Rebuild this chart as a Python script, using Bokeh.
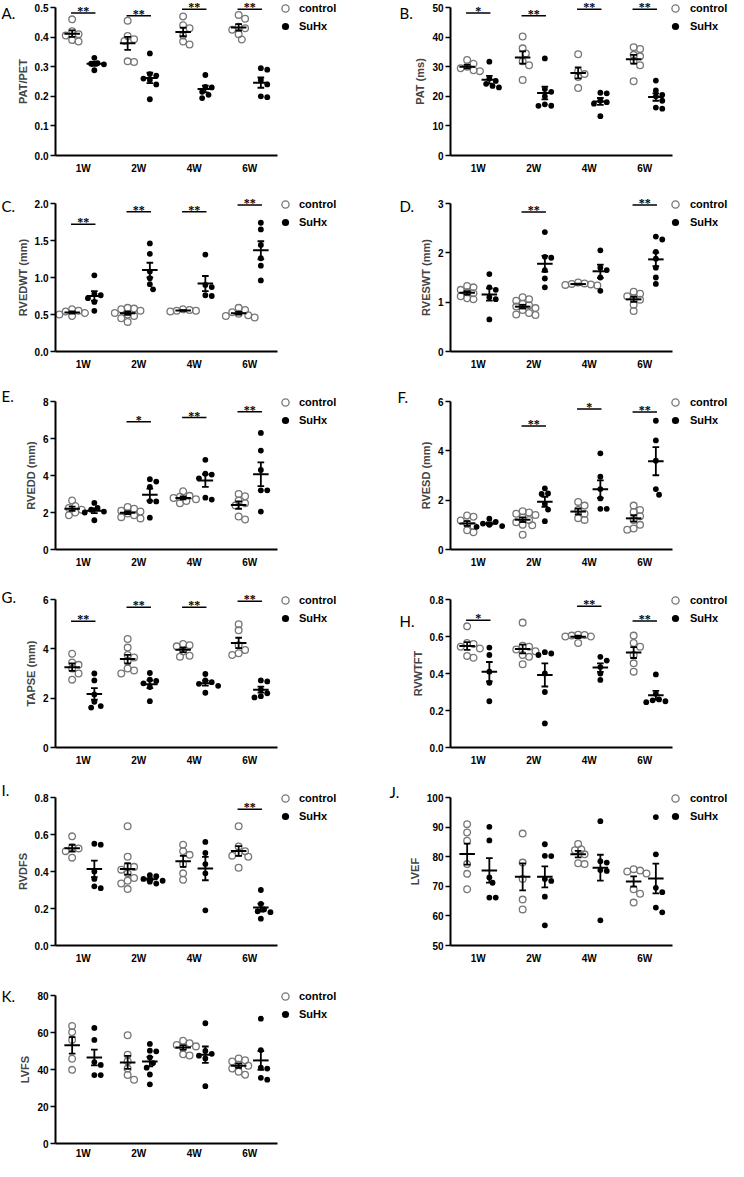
import numpy as np
from bokeh.plotting import figure
from bokeh.models import (ColumnDataSource, Range1d, FixedTicker, Label, LabelSet,
                          Legend, LegendItem, PrintfTickFormatter, CustomJSTickFormatter)
from bokeh.layouts import column, row
from bokeh.embed import file_html
from bokeh.resources import INLINE

weeks = ["1W", "2W", "4W", "6W"]
group_names = ["control", "SuHx"]

# ---------------- data ----------------
A_control = [[0.46, 0.42, 0.41, 0.405, 0.39, 0.385], [0.455, 0.404, 0.393, 0.387, 0.318, 0.316],
             [0.47, 0.44, 0.43, 0.405, 0.385, 0.375], [0.475, 0.462, 0.435, 0.43, 0.425, 0.41, 0.392]]
A_suhx = [[0.33, 0.312, 0.31, 0.308, 0.288], [0.345, 0.275, 0.27, 0.26, 0.255, 0.24, 0.19],
          [0.272, 0.232, 0.23, 0.215, 0.205, 0.194], [0.295, 0.29, 0.255, 0.24, 0.2, 0.197]]
A_sig = ["**", "**", "**", "**"]
A_sig_y = [0.481, 0.472, 0.494, 0.494]

B_control = [[32.3, 31, 30, 29.5, 28.8, 28.5], [40.2, 36.2, 34.5, 31.8, 30.5, 25.5],
             [34.2, 28.5, 27.5, 26.5, 22.8], [36.6, 36, 34, 33.5, 32, 30.5, 25.1]]
B_suhx = [[31.7, 26.0, 25.2, 24.2, 23.5, 23.0], [32.8, 22.5, 21.5, 20, 17.3, 16.8, 16.8],
          [21.2, 21, 18.5, 18, 17.5, 13.3], [25.3, 22, 20.5, 20, 18.5, 16.2, 15.8]]
B_sig = ["*", "**", "**", "**"]
B_sig_y = [48.1, 47.2, 49.4, 49.4]

C_control = [[0.57, 0.55, 0.54, 0.52, 0.5, 0.48], [0.59, 0.58, 0.57, 0.55, 0.52, 0.5, 0.48, 0.45, 0.4],
             [0.57, 0.56, 0.55, 0.55, 0.54], [0.59, 0.56, 0.53, 0.51, 0.49, 0.48, 0.46]]
C_suhx = [[1.03, 0.78, 0.76, 0.72, 0.67, 0.55], [1.46, 1.32, 1.08, 0.99, 0.91, 0.84],
          [1.31, 0.9, 0.87, 0.76, 0.75], [1.74, 1.65, 1.44, 1.26, 1.16, 0.96]]
C_sig = ["**", "**", "**", "**"]
C_sig_y = [1.72, 1.89, 1.89, 1.98]

D_control = [[1.33, 1.30, 1.25, 1.2, 1.18, 1.12, 1.08, 1.06],
             [1.1, 1.06, 1.03, 0.97, 0.94, 0.91, 0.88, 0.84, 0.78, 0.75, 0.74],
             [1.4, 1.38, 1.37, 1.36, 1.35, 1.34], [1.21, 1.17, 1.12, 1.08, 1.05, 0.95, 0.82]]
D_suhx = [[1.57, 1.3, 1.25, 1.1, 1.06, 0.65], [2.42, 1.92, 1.9, 1.65, 1.48, 1.3],
          [2.05, 1.7, 1.65, 1.5, 1.23], [2.33, 2.27, 2.02, 1.88, 1.7, 1.5, 1.37]]
D_sig = ["", "**", "", "**"]
D_sig_y = [0, 2.83, 0, 2.97]

E_control = [[2.65, 2.35, 2.25, 2.15, 2.0, 1.85], [2.3, 2.2, 2.1, 2.05, 1.95, 1.85, 1.75, 1.68],
             [3.15, 2.9, 2.85, 2.78, 2.72, 2.62, 2.5], [3.0, 2.88, 2.65, 2.5, 2.38, 1.78, 1.62]]
E_suhx = [[2.52, 2.25, 2.15, 2.05, 2.0, 1.58], [3.8, 3.67, 3.38, 2.62, 2.6, 1.72],
          [4.85, 4.1, 4.05, 3.85, 2.8, 2.7], [6.3, 5.35, 4.3, 3.2, 3.2, 2.05]]
E_sig = ["", "*", "**", "**"]
E_sig_y = [0, 6.9, 7.13, 7.45]

F_control = [[1.38, 1.33, 1.18, 1.05, 0.95, 0.78, 0.7], [1.55, 1.5, 1.45, 1.4, 1.3, 1.2, 1.1, 1.0, 0.98, 0.6],
             [1.93, 1.78, 1.6, 1.45, 1.27, 1.2], [1.78, 1.6, 1.52, 1.35, 1.2, 1.0, 0.85, 0.8]]
F_suhx = [[1.25, 1.12, 1.05, 1.0, 0.95, 0.92], [2.48, 2.27, 2.25, 1.85, 1.62, 1.15],
          [3.9, 2.95, 2.45, 2.07, 1.65, 1.65], [5.22, 4.42, 3.6, 2.45, 2.22]]
F_sig = ["", "**", "*", "**"]
F_sig_y = [0, 5.01, 5.7, 5.57]

G_control = [[3.8, 3.45, 3.35, 3.2, 3.0, 2.75], [4.4, 4.05, 3.75, 3.65, 3.5, 3.2, 3.12, 3.0],
             [4.2, 4.15, 4.1, 3.9, 3.72, 3.68], [5.0, 4.75, 4.15, 3.95, 3.82, 3.75]]
G_suhx = [[3.0, 2.72, 2.15, 1.85, 1.68, 1.62], [3.02, 2.75, 2.7, 2.6, 2.45, 1.88],
          [2.98, 2.72, 2.65, 2.58, 2.5, 2.22], [2.72, 2.68, 2.35, 2.2, 2.08, 2.03]]
G_sig = ["**", "**", "**", "**"]
G_sig_y = [5.12, 5.69, 5.69, 5.93]

H_control = [[0.655, 0.565, 0.56, 0.545, 0.535, 0.495, 0.485], [0.675, 0.55, 0.545, 0.53, 0.52, 0.5, 0.49, 0.45],
             [0.61, 0.608, 0.605, 0.6, 0.6, 0.565], [0.605, 0.565, 0.545, 0.5, 0.455, 0.41]]
H_suhx = [[0.54, 0.5, 0.41, 0.35, 0.25], [0.515, 0.508, 0.5, 0.4, 0.3, 0.13],
          [0.49, 0.47, 0.435, 0.4, 0.365], [0.395, 0.29, 0.26, 0.255, 0.25, 0.245]]
H_sig = ["*", "", "**", "**"]
H_sig_y = [0.688, 0, 0.763, 0.684]

I_control = [[0.59, 0.53, 0.525, 0.51, 0.475],
             [0.645, 0.48, 0.43, 0.425, 0.41, 0.39, 0.365, 0.35, 0.335, 0.305],
             [0.545, 0.51, 0.49, 0.44, 0.39, 0.355], [0.645, 0.535, 0.51, 0.5, 0.485, 0.48, 0.42]]
I_suhx = [[0.55, 0.545, 0.4, 0.36, 0.31, 0.32], [0.38, 0.375, 0.36, 0.35, 0.345, 0.335],
          [0.56, 0.5, 0.44, 0.39, 0.19], [0.3, 0.225, 0.195, 0.185, 0.18, 0.145]]
I_sig = ["", "", "", "**"]
I_sig_y = [0, 0, 0, 0.736]

J_control = [[91, 88.2, 85.4, 77.5, 74.2, 69], [87.8, 78, 72.5, 65.5, 62.2],
             [84.3, 82.5, 82.2, 80.8, 77.8, 77.5], [75.8, 75.3, 75, 74.3, 69, 67.5, 64.5]]
J_suhx = [[90.1, 85.5, 73, 71.2, 66.2, 66.2], [84.2, 80.3, 80.2, 72.5, 71.8, 66.5, 56.8],
          [92, 78.5, 78, 75.5, 75.2, 58.5], [93.4, 80.8, 69.5, 68, 62.8, 61.2]]
J_sig = ["", "", "", ""]
J_sig_y = [0, 0, 0, 0]

K_control = [[63.5, 60.2, 56, 45.8, 39.8], [58.5, 48, 44.5, 40.5, 37, 34.5],
             [55.5, 54.2, 53.3, 52.5, 51.8, 48.2, 47.6], [46, 45, 44.3, 42.5, 42, 40.5, 38.8, 37.2]]
K_suhx = [[62.5, 56, 44, 42.5, 37, 37], [53.8, 50.2, 49.8, 46.5, 43.5, 41, 37.3, 32],
          [65, 50, 48.5, 47.5, 46, 31], [67.5, 50.5, 41, 40.5, 35.5, 34.5]]
K_sig = ["", "", "", ""]
K_sig_y = [0, 0, 0, 0]

# panel descriptions: letter, y label, y range, tick step, tick format
panels = [
    ("A.", "PAT/PET", 0, 0.5, 0.1, "%.1f", A_control, A_suhx, A_sig, A_sig_y),
    ("B.", "PAT (ms)", 0, 50, 10, "%d", B_control, B_suhx, B_sig, B_sig_y),
    ("C.", "RVEDWT (mm)", 0, 2.0, 0.5, "%.1f", C_control, C_suhx, C_sig, C_sig_y),
    ("D.", "RVESWT (mm)", 0, 3, 1, "%d", D_control, D_suhx, D_sig, D_sig_y),
    ("E.", "RVEDD (mm)", 0, 8, 2, "%d", E_control, E_suhx, E_sig, E_sig_y),
    ("F.", "RVESD (mm)", 0, 6, 2, "%d", F_control, F_suhx, F_sig, F_sig_y),
    ("G.", "TAPSE (mm)", 0, 6, 2, "%d", G_control, G_suhx, G_sig, G_sig_y),
    ("H.", "RVWTFT", 0, 0.8, 0.2, "%.1f", H_control, H_suhx, H_sig, H_sig_y),
    ("I.", "RVDFS", 0, 0.8, 0.2, "%.1f", I_control, I_suhx, I_sig, I_sig_y),
    ("J.", "LVEF", 50, 100, 10, "%d", J_control, J_suhx, J_sig, J_sig_y),
    ("K.", "LVFS", 0, 80, 20, "%d", K_control, K_suhx, K_sig, K_sig_y),
]

# panel-letter placement (px, relative to the bottom-left of the data area)
letter_pos = {"A.": (-54, 143), "B.": (-51, 143), "C.": (-54, 146), "D.": (-51, 146),
              "E.": (-54, 154), "F.": (-53, 153), "G.": (-54, 151), "H.": (-51, 127),
              "I.": (-54, 156), "J.": (-61, 154), "K.": (-54, 148)}

FONT = "Liberation Sans"
CTRL = "#777777"
DATA_W, DATA_H = 222, 148
X_PPU = DATA_W / 4.0
GROUP_OFF = 0.2


def swarm(vals, lo, hi):
    """deterministic beeswarm offsets (in x data units)"""
    vals = np.asarray(vals, dtype=float)
    ppu = DATA_H / (hi - lo)
    d = 6.4
    cands = [0.0]
    for k in range(1, 14):
        cands += [k * d / 2, -k * d / 2]
    placed = []
    offs = np.zeros(len(vals))
    for i in np.argsort(-vals):
        py = (vals[i] - lo) * ppu
        for c in cands:
            if all((c - px) ** 2 + (py - qy) ** 2 >= (0.92 * d) ** 2 for px, qy in placed):
                break
        placed.append((c, py))
        offs[i] = c / X_PPU
    return offs


def make_panel(spec, col, rowi, nrows):
    letter, ylabel, lo, hi, step, fmt, ctrl, suhx, sig, sig_y = spec
    last = rowi == nrows - 1
    ml = 55 if col == 0 else 82
    mr = 91 if col == 0 else 56
    w = ml + DATA_W + mr
    top = 7 if rowi == 0 else 20
    mb = 17 if last else (28 if rowi == 0 else 30)
    h = top + DATA_H + mb
    xpp = 4.0 / DATA_W
    ypp = (hi - lo) / DATA_H
    p = figure(width=w, height=h, output_backend="svg", toolbar_location=None,
               x_range=Range1d(-ml * xpp, 4 + mr * xpp),
               y_range=Range1d(lo - mb * ypp, hi + top * ypp),
               min_border=0)
    p.outline_line_color = None
    p.xgrid.visible = False
    p.ygrid.visible = False
    p.background_fill_color = "white"
    p.border_fill_color = "white"

    # axes (pinned to the data area)
    xa = p.xaxis[0]
    ya = p.yaxis[0]
    xa.fixed_location = lo
    xa.bounds = (0, 4)
    ya.fixed_location = 0
    ya.bounds = (lo, hi)
    xa.ticker = FixedTicker(ticks=[i + 0.5 for i in range(len(weeks))])
    xa.formatter = CustomJSTickFormatter(args=dict(labels=weeks),
                                         code="return labels[Math.floor(tick)] || '';")
    xa.major_tick_line_color = None
    xa.major_tick_out = 0
    xa.major_tick_in = 0
    xa.major_label_standoff = 7 if not last else 4
    nt = int(round((hi - lo) / step))
    ya.ticker = FixedTicker(ticks=[round(lo + k * step, 6) for k in range(nt + 1)])
    ya.formatter = PrintfTickFormatter(format=fmt)
    ya.major_tick_out = 5
    ya.major_tick_in = 0
    ya.major_tick_line_width = 1.5
    ya.major_label_standoff = 2
    ya.axis_label = ylabel
    ya.axis_label_text_font = FONT
    ya.axis_label_text_font_style = "bold"
    ya.axis_label_text_font_size = "11px"
    ya.axis_label_standoff = 3
    for ax in (xa, ya):
        ax.axis_line_width = 2
        ax.axis_line_color = "black"
        ax.minor_tick_line_color = None
        ax.major_label_text_font = FONT
        ax.major_label_text_font_style = "bold"
        ax.major_label_text_font_size = "10px"
        ax.major_label_text_color = "black"

    renderers = []
    for gi, (data, sign) in enumerate(((ctrl, -1), (suhx, 1))):
        xs, ys = [], []
        mx0, mx1, mys, ex, elo, ehi = [], [], [], [], [], []
        for wi, vals in enumerate(data):
            c = wi + 0.5 + sign * GROUP_OFF
            offs = swarm(vals, lo, hi)
            xs += list(c + offs)
            ys += list(vals)
            arr = np.asarray(vals, dtype=float)
            m = arr.mean()
            sem = arr.std(ddof=1) / np.sqrt(len(arr))
            mx0.append(c - 0.14)
            mx1.append(c + 0.14)
            mys.append(m)
            ex.append(c)
            elo.append(m - sem)
            ehi.append(m + sem)
        src = ColumnDataSource(dict(x=xs, y=ys))
        if gi == 0:
            r = p.scatter("x", "y", source=src, marker="circle", size=6.7, fill_color=None,
                          line_color=CTRL, line_width=1.3)
        else:
            r = p.scatter("x", "y", source=src, marker="circle", size=5.8, fill_color="black",
                          line_color=None)
        renderers.append(r)
        p.segment(x0=mx0, x1=mx1, y0=mys, y1=mys, line_color="black", line_width=2)
        p.segment(x0=ex, x1=ex, y0=elo, y1=ehi, line_color="black", line_width=1.8)
        ex_arr = np.asarray(ex)
        p.segment(x0=list(ex_arr - 0.06), x1=list(ex_arr + 0.06), y0=elo, y1=elo,
                  line_color="black", line_width=1.8)
        p.segment(x0=list(ex_arr - 0.06), x1=list(ex_arr + 0.06), y0=ehi, y1=ehi,
                  line_color="black", line_width=1.8)

    # significance bars
    bx0, bx1, by, bt, bxc = [], [], [], [], []
    for wi, (s, yv) in enumerate(zip(sig, sig_y)):
        if s:
            c = wi + 0.5
            bx0.append(c - 0.22)
            bx1.append(c + 0.22)
            bxc.append(c)
            by.append(yv)
            bt.append(s)
    if bt:
        p.segment(x0=bx0, x1=bx1, y0=by, y1=by, line_color="black", line_width=1.5)
        ssrc = ColumnDataSource(dict(x=bxc, y=by, t=bt))
        p.add_layout(LabelSet(x="x", y="y", text="t", source=ssrc, text_align="center",
                              text_baseline="alphabetic", y_offset=-2, text_font=FONT,
                              text_font_style="bold", text_font_size="12px", text_color="black"))

    # legend
    if col == 0:
        lx0, stand = DATA_W - 1, 5
    else:
        lx0, stand = DATA_W - 6, 6
    leg = Legend(items=[LegendItem(label=group_names[0], renderers=[renderers[0]]),
                        LegendItem(label=group_names[1], renderers=[renderers[1]])],
                 location=(ml + lx0, mb + DATA_H - 28))
    leg.glyph_width = 18
    leg.glyph_height = 18
    leg.label_height = 18
    leg.label_width = 20
    leg.label_standoff = stand
    leg.padding = 0
    leg.spacing = 0
    leg.margin = 0
    leg.border_line_color = None
    leg.background_fill_alpha = 0
    leg.label_text_font = FONT
    leg.label_text_font_style = "bold"
    leg.label_text_font_size = "11px"
    leg.label_text_color = "black"
    p.add_layout(leg)

    lx, ly = letter_pos[letter]
    p.add_layout(Label(x=ml + lx, y=mb + ly, x_units="screen", y_units="screen", text=letter,
                       text_font="Lato", text_font_size="15px", text_baseline="alphabetic",
                       text_color="black"))
    return p


nrows = (len(panels) + 1) // 2
figs = []
for k, spec in enumerate(panels):
    figs.append(make_panel(spec, k % 2, k // 2, nrows))

rows = []
for k in range(0, len(figs), 2):
    rows.append(row(*figs[k:k + 2]))
layout = column(*rows)

open("out.html", "w").write(file_html(layout, INLINE, "echo panels"))
